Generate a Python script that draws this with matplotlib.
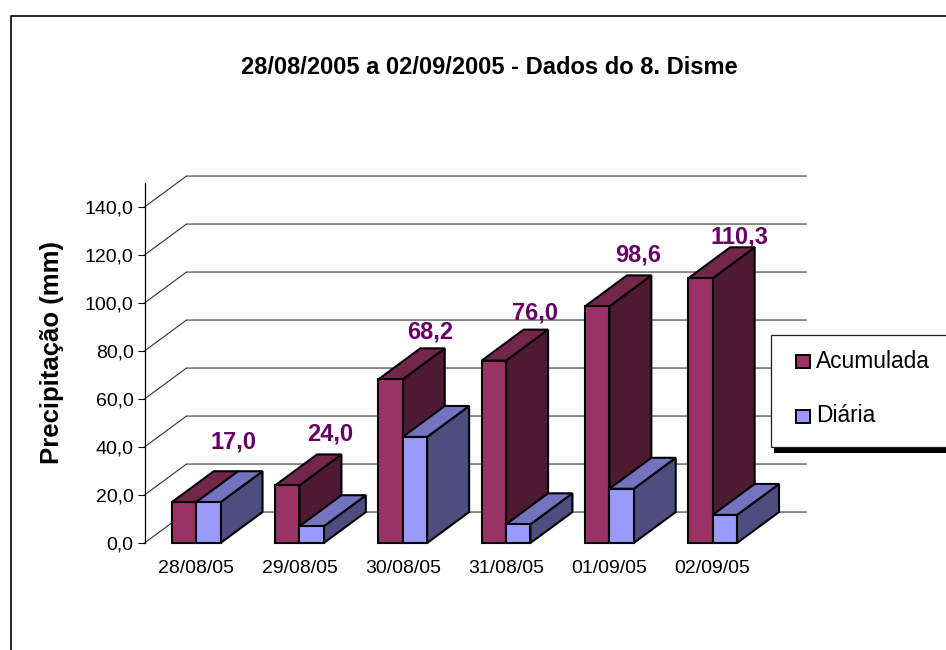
import matplotlib
matplotlib.use("Agg")
import matplotlib.pyplot as plt
from matplotlib.lines import Line2D
from matplotlib.patches import Polygon, Rectangle

plt.rcParams["font.family"] = ["Liberation Sans", "DejaVu Sans"]

# data
dias = ["28/08/05", "29/08/05", "30/08/05", "31/08/05", "01/09/05", "02/09/05"]
acumulada = [17.0, 24.0, 68.2, 76.0, 98.6, 110.3]
diaria = [17.0, 7.0, 44.2, 7.8, 22.6, 11.7]
rotulos = ["17,0", "24,0", "68,2", "76,0", "98,6", "110,3"]
y_ticks = [0, 20, 40, 60, 80, 100, 120, 140]
series = ["Acumulada", "Diária"]

# label offsets from the top of each accumulated bar, in points
label_dx = [27, 22, 20, 21, 21, 19]
label_dy = [43, 37, 34, 34, 37, 30]

W, H = 946, 650
COR_A = ("#993366", "#732649", "#4d1933")
COR_D = ("#9999ff", "#7373bf", "#4d4d80")
DX, DY = 0.4066, 12.9  # 3d depth, in data units
BAR = 0.236


def fx(px):
    return px / W


def fy(py):
    return 1 - py / H


def bar3d(ax, x0, valor, cores):
    x1 = x0 + BAR
    front = [(x0, 0), (x1, 0), (x1, valor), (x0, valor)]
    top = [(x0, valor), (x1, valor), (x1 + DX, valor + DY), (x0 + DX, valor + DY)]
    side = [(x1, 0), (x1 + DX, DY), (x1 + DX, valor + DY), (x1, valor)]
    for pts, cor in zip((side, top, front), (cores[2], cores[1], cores[0])):
        ax.add_patch(Polygon(pts, closed=True, facecolor=cor, edgecolor="black",
                             linewidth=1.5, joinstyle="miter", clip_on=False, zorder=3))


fig = plt.figure(figsize=(W / 100, H / 100), dpi=100)
ax = fig.add_axes([fx(144.5), fy(543), 619.8 / W, 360 / H])
ax.set_xlim(-0.5, 5.5)
ax.set_ylim(0, 150)
ax.patch.set_visible(False)

# back wall grid lines
for v in y_ticks:
    ax.plot([-0.5, -0.5 + DX, 5.5 + DX], [v, v + DY, v + DY], color="#333333",
            linewidth=0.8, clip_on=False, zorder=1)

for i in range(len(dias)):
    bar3d(ax, i - BAR, acumulada[i], COR_A)
    bar3d(ax, i, diaria[i], COR_D)
    ax.annotate(rotulos[i], (i, acumulada[i]), xytext=(label_dx[i], label_dy[i]),
                textcoords="offset points", ha="center", va="center", fontsize=17,
                fontweight="bold", color="#660066", zorder=5, annotation_clip=False)

for s in ("top", "right", "bottom"):
    ax.spines[s].set_visible(False)
ax.spines["left"].set_linewidth(0.9)

ax.set_xticks(range(len(dias)))
ax.set_xticklabels(dias, fontsize=14)
ax.tick_params(axis="x", length=0, pad=12.5)
ax.set_yticks(y_ticks)
ax.set_yticklabels([f"{v:.1f}".replace(".", ",") for v in y_ticks], fontsize=14)
ax.tick_params(axis="y", length=5.4, width=0.8, pad=2.5)
ax.set_ylabel("Precipitação (mm)", fontsize=18.5, fontweight="bold")
ax.yaxis.set_label_coords((64 - 144.5) / 619.8, (543 - 352) / 360)

fig.text(fx(489), fy(67), "28/08/2005 a 02/09/2005 - Dados do 8. Disme", ha="center",
         va="center", fontsize=17, fontweight="bold")

# chart area border, only top and left show
fig.add_artist(Line2D([fx(11), fx(11), fx(946)], [fy(650), fy(16), fy(16)], color="black",
                      linewidth=1.2))

# legend runs off the right edge
fig.add_artist(Rectangle((fx(774), fy(453)), 172 / W, 6 / H, transform=fig.transFigure,
                         facecolor="black", edgecolor="none", zorder=6))
fig.add_artist(Rectangle((fx(771), fy(447)), 180 / W, 112 / H, transform=fig.transFigure,
                         facecolor="white", edgecolor="#222222", linewidth=0.9, zorder=7))
for nome, cor, py in zip(series, (COR_A[0], COR_D[0]), (361, 416)):
    fig.add_artist(Rectangle((fx(796), fy(py + 7)), 13.5 / W, 13.5 / H, transform=fig.transFigure,
                             facecolor=cor, edgecolor="black", linewidth=1.4, zorder=8))
    fig.text(fx(816), fy(py), nome, ha="left", va="center", fontsize=16.4, zorder=8)

fig.savefig("out.png", dpi=100)
